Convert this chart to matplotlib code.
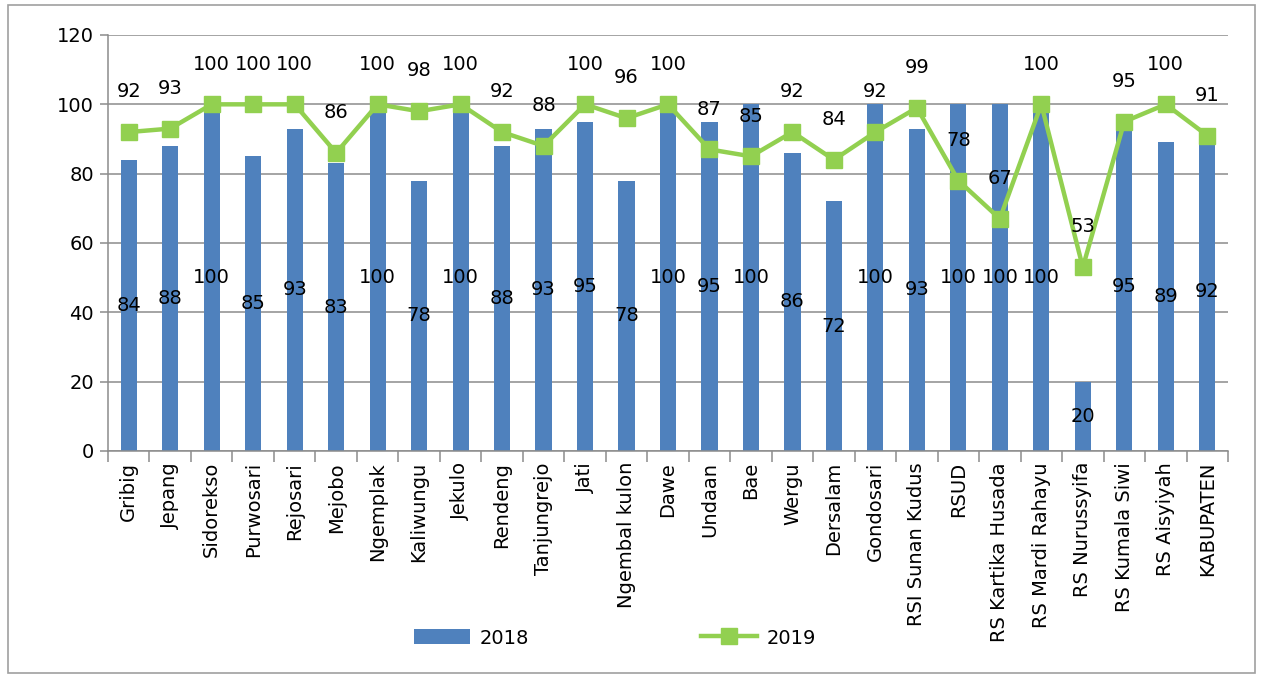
import matplotlib
matplotlib.use("Agg")
import matplotlib.pyplot as plt
from matplotlib.patches import Rectangle

categories = ["Gribig", "Jepang", "Sidorekso", "Purwosari", "Rejosari", "Mejobo",
              "Ngemplak", "Kaliwungu", "Jekulo", "Rendeng", "Tanjungrejo", "Jati",
              "Ngembal kulon", "Dawe", "Undaan", "Bae", "Wergu", "Dersalam",
              "Gondosari", "RSI Sunan Kudus", "RSUD", "RS Kartika Husada",
              "RS Mardi Rahayu", "RS Nurussyifa", "RS Kumala Siwi", "RS Aisyiyah",
              "KABUPATEN"]
values_2018 = [84, 88, 100, 85, 93, 83, 100, 78, 100, 88, 93, 95, 78, 100, 95, 100,
               86, 72, 100, 93, 100, 100, 100, 20, 95, 89, 92]
values_2019 = [92, 93, 100, 100, 100, 86, 100, 98, 100, 92, 88, 100, 96, 100, 87, 85,
               92, 84, 92, 99, 78, 67, 100, 53, 95, 100, 91]
y_ticks = [0, 20, 40, 60, 80, 100, 120]

BLUE = "#4F81BD"
GREEN = "#92D050"
GRID = "#8C8C8C"
FS = 14

fig = plt.figure(figsize=(12.63, 6.78), dpi=100)
fig.patch.set_facecolor("white")
fig.add_artist(Rectangle((8/1263, 5/678), 1247/1263, 668/678, transform=fig.transFigure,
                         fill=False, edgecolor="#A0A0A0", linewidth=1.2))

ax = fig.add_axes([108/1263, 1 - 451/678, 1120/1263, 416/678])
x = list(range(len(categories)))

bars = ax.bar(x, values_2018, width=0.39, color=BLUE, zorder=2, label="2018")
line, = ax.plot(x, values_2019, color=GREEN, linewidth=3.2, marker="s", markersize=12,
                zorder=3, label="2019")

for xi, v in zip(x, values_2018):
    ax.text(xi, v / 2, str(v), ha="center", va="center", fontsize=FS, color="black", zorder=4)
for xi, v in zip(x, values_2019):
    ax.annotate(str(v), (xi, v), xytext=(0, 29), textcoords="offset points",
                ha="center", va="center", fontsize=FS, color="black", zorder=4)

ax.set_xlim(-0.5, len(categories) - 0.5)
ax.set_ylim(0, 120)
ax.set_yticks(y_ticks)
ax.set_yticklabels([str(t) for t in y_ticks], fontsize=FS)
ax.yaxis.grid(True, color=GRID, linewidth=1.1, zorder=0)
ax.set_axisbelow(True)

ax.set_xticks(x)
ax.set_xticklabels(categories, rotation=90, fontsize=FS)
ax.set_xticks([i + 0.5 for i in range(-1, len(categories))], minor=True)
ax.tick_params(axis="x", which="major", length=0, pad=8)
ax.tick_params(axis="x", which="minor", length=8, color=GRID, width=1.1)
ax.tick_params(axis="y", length=6, color=GRID, width=1.1, pad=4)

for s in ["top", "right"]:
    ax.spines[s].set_visible(False)
for s in ["left", "bottom"]:
    ax.spines[s].set_color(GRID)
    ax.spines[s].set_linewidth(1.1)

fig.legend(handles=[bars, line], labels=["2018", "2019"], loc="center",
           bbox_to_anchor=(615/1263, 1 - 638/678), ncol=2, frameon=False,
           fontsize=FS, handlelength=2.9, handleheight=0.8, columnspacing=8.8,
           handletextpad=0.5)

fig.savefig("out.png", dpi=100, facecolor="white")
